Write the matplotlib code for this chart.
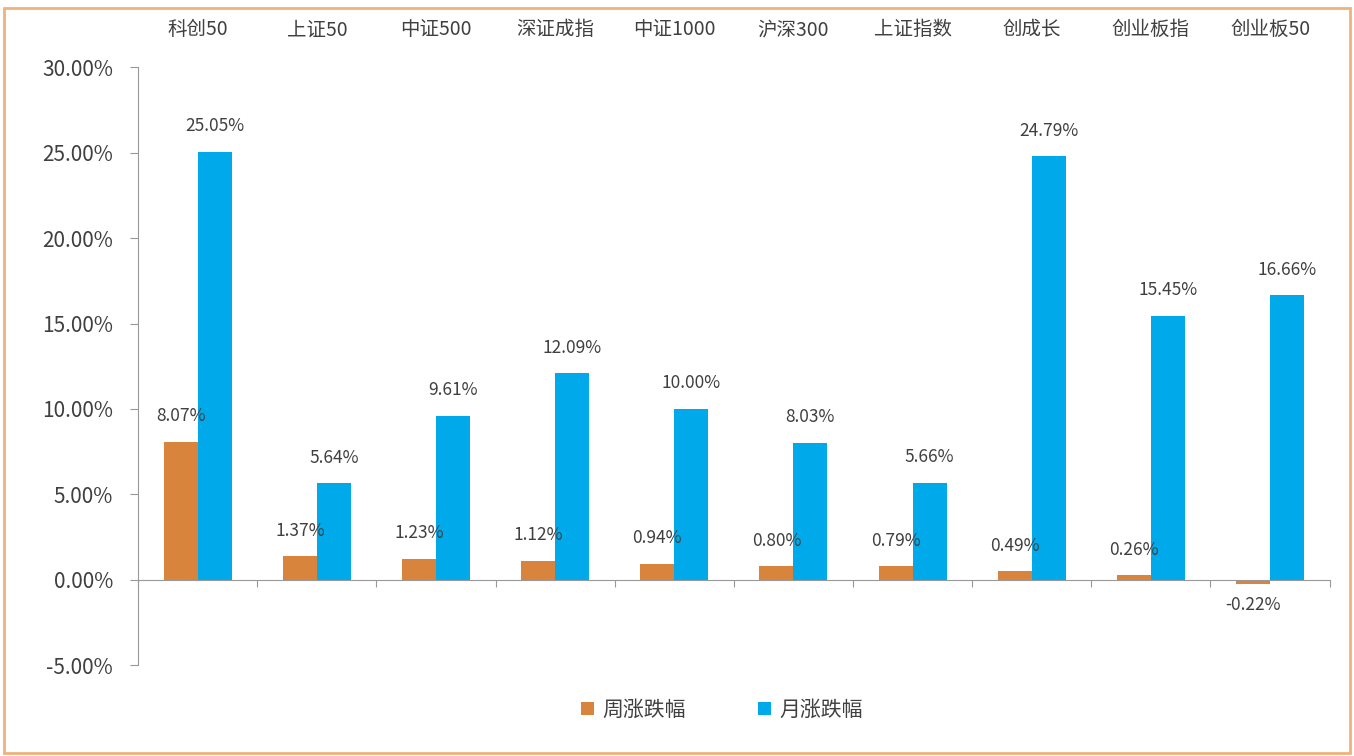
"""Weekly and monthly returns of major A-share indices, grouped bars."""

import numpy as np
import matplotlib
matplotlib.use("Agg")
import matplotlib.pyplot as plt
from matplotlib.patches import Rectangle

plt.rcParams["font.family"] = ["Noto Sans CJK SC", "DejaVu Sans"]

categories = ["科创50", "上证50", "中证500", "深证成指", "中证1000",
              "沪深300", "上证指数", "创成长", "创业板指", "创业板50"]
week_chg = [8.07, 1.37, 1.23, 1.12, 0.94, 0.80, 0.79, 0.49, 0.26, -0.22]
month_chg = [25.05, 5.64, 9.61, 12.09, 10.00, 8.03, 5.66, 24.79, 15.45, 16.66]
series_names = ["周涨跌幅", "月涨跌幅"]
yticks = [-5, 0, 5, 10, 15, 20, 25, 30]

ORANGE = "#D8843D"
BLUE = "#00AAEA"
TEXT = "#404040"

fig = plt.figure(figsize=(13.54, 7.56), dpi=100)
fig.patches.append(Rectangle((0.003, 0.004), 0.994, 0.985, transform=fig.transFigure,
                             fill=False, edgecolor="#F0B27A", linewidth=2))
ax = fig.add_axes([0.102, 0.120, 0.880, 0.791])

x = np.arange(len(categories))
w = 0.285
b1 = ax.bar(x - w / 2, week_chg, w, color=ORANGE, label=series_names[0])
b2 = ax.bar(x + w / 2, month_chg, w, color=BLUE, label=series_names[1])

for bars, vals in [(b1, week_chg), (b2, month_chg)]:
    for bar, v in zip(bars, vals):
        cx = bar.get_x() + bar.get_width() / 2
        if v >= 0:
            ax.annotate(f"{v:.2f}%", (cx, v), xytext=(0, 12), textcoords="offset points",
                        ha="center", va="bottom", fontsize=12.5, color=TEXT)
        else:
            ax.annotate(f"{v:.2f}%", (cx, v), xytext=(0, -9), textcoords="offset points",
                        ha="center", va="top", fontsize=12.5, color=TEXT)

ax.set_xlim(-0.5, len(categories) - 0.5)
ax.set_ylim(-5, 30)
ax.set_yticks(yticks)
ax.set_yticklabels([f"{t:.2f}%" for t in yticks], fontsize=15, color=TEXT)
ax.tick_params(axis="y", direction="out", length=6, color="#999999", pad=12)

# category labels across the top
for i, c in enumerate(categories):
    ax.text(i, 1.045, c, transform=ax.get_xaxis_transform(), ha="center", va="bottom",
            fontsize=14, color=TEXT)

# x axis at zero with separator ticks
ax.spines["top"].set_visible(False)
ax.spines["right"].set_visible(False)
ax.spines["bottom"].set_position(("data", 0))
ax.spines["bottom"].set_color("#999999")
ax.spines["left"].set_color("#999999")
ax.set_xticks(np.arange(len(categories) + 1) - 0.5)
ax.set_xticklabels([])
ax.tick_params(axis="x", direction="out", length=5, color="#999999")

ax.legend(loc="upper center", bbox_to_anchor=(0.49, -0.025), ncol=2, frameon=False,
          fontsize=15, handlelength=0.6, handleheight=0.6, columnspacing=3.5,
          labelcolor=TEXT, handletextpad=0.4)

plt.savefig("out.png", dpi=100)
plt.close()
